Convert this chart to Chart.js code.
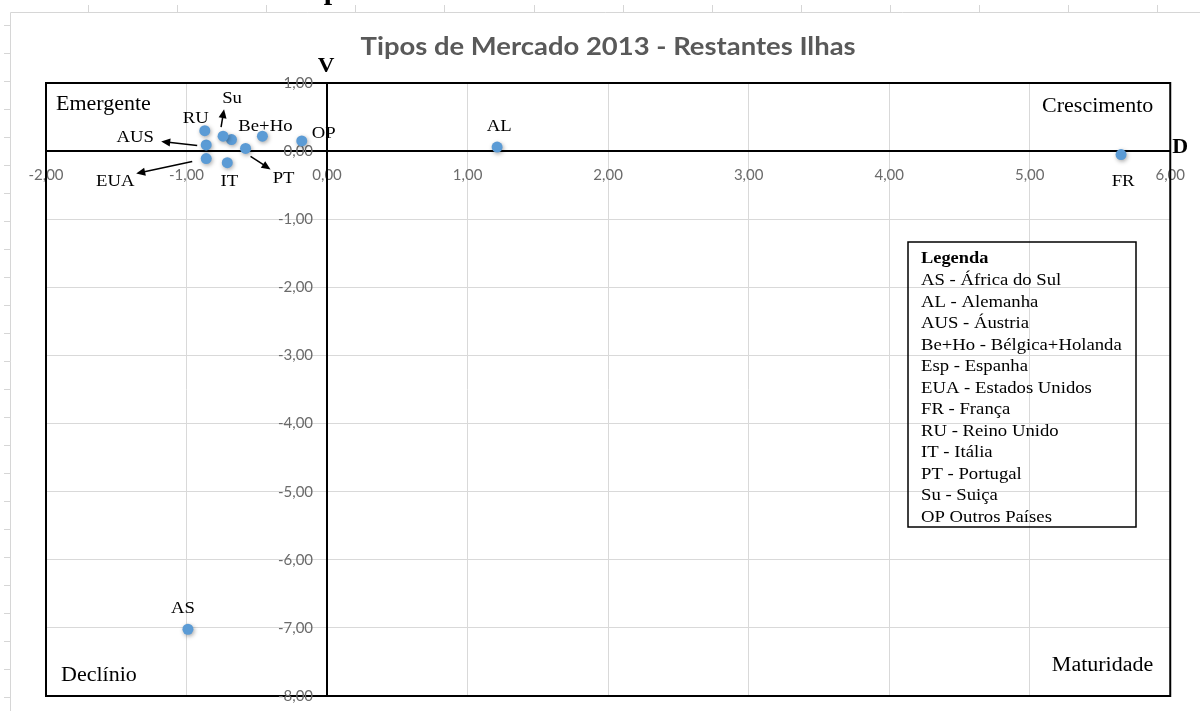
<!DOCTYPE html>
<html lang="pt">
<head>
<meta charset="utf-8">
<title>Tipos de Mercado 2013 - Restantes Ilhas</title>
<script src="https://cdn.jsdelivr.net/npm/chart.js@4/dist/chart.umd.min.js"></script>
<style>
  html, body { margin: 0; padding: 0; background: #fff; }
  #wrap { position: relative; width: 1200px; height: 711px; }
</style>
</head>
<body>
<div id="wrap"><canvas id="chart"></canvas></div>
<script>
// Market codes and their two indicators: D (horizontal) and V (vertical)
const countries = ['AS', 'AL', 'AUS', 'Be+Ho', 'Esp', 'EUA', 'FR', 'RU', 'IT', 'PT', 'Su', 'OP'];
const dValues   = [-0.99, 1.21, -0.86, -0.46, -0.68, -0.86, 5.65, -0.87, -0.71, -0.58, -0.74, -0.18];
const vValues   = [-7.02, 0.06,  0.09,  0.22,  0.17, -0.11, -0.05, 0.30, -0.17,  0.04,  0.22,  0.15];

// Axis ranges and tick steps
const xTicks = [-2, -1, 0, 1, 2, 3, 4, 5, 6];
const yTicks = [1, 0, -1, -2, -3, -4, -5, -6, -7, -8];

// Quadrant names and legend lines
const quadrants = ['Emergente', 'Crescimento', 'Declínio', 'Maturidade'];
const legendTitle = 'Legenda';
const legendLines = [
  'AS - África do Sul',
  'AL - Alemanha',
  'AUS - Áustria',
  'Be+Ho - Bélgica+Holanda',
  'Esp - Espanha',
  'EUA - Estados Unidos',
  'FR - França',
  'RU - Reino Unido',
  'IT - Itália',
  'PT - Portugal',
  'Su - Suiça',
  'OP Outros Países'
];
const chartTitle = 'Tipos de Mercado 2013 - Restantes Ilhas';

const fmt = v => v.toFixed(2).replace('.', ',').replace('-0,00', '0,00');

// Label placement relative to each point (pixels); arrows run from a -> b
const labelPlacement = {
  'RU':    { dx: -9,  dy: -14 },
  'Su':    { dx: 9,   dy: -39, arrow: { a: [-2, -9],  b: [1, -27] } },
  'AUS':   { dx: -71, dy: -9,  arrow: { a: [-9, 0.5], b: [-45, -3.5] } },
  'EUA':   { dx: -91, dy: 21,  arrow: { a: [-14, 3],  b: [-70, 15] } },
  'IT':    { dx: 2,   dy: 17 },
  'PT':    { dx: 38,  dy: 29,  arrow: { a: [5, 8],    b: [25, 21] } },
  'Be+Ho': { dx: 3,   dy: -11 },
  'OP':    { dx: 22,  dy: -9 },
  'AL':    { dx: 2,   dy: -22 },
  'FR':    { dx: 2,   dy: 25 },
  'AS':    { dx: -5,  dy: -22 }
};

const SERIF = '"Liberation Serif", "Times New Roman", serif';
const TICK_FONT = '15px Lato, "Open Sans", sans-serif';
const TICK_COLOR = '#6b6b6b';

function drawText(ctx, s, x, y, font, opt) {
  opt = opt || {};
  ctx.save();
  ctx.font = font;
  ctx.fillStyle = opt.color || '#000';
  ctx.textBaseline = opt.baseline || 'alphabetic';
  ctx.textAlign = 'left';
  let sx = opt.sx || 1;
  const raw = ctx.measureText(s).width;
  if (opt.fitWidth) sx = opt.fitWidth / raw;
  const w = raw * sx;
  let left = x;
  if (opt.align === 'center') left = x - w / 2;
  else if (opt.align === 'right') left = x - w;
  ctx.translate(left, y);
  ctx.scale(sx, 1);
  ctx.fillText(s, 0, 0);
  ctx.restore();
}

function drawArrow(ctx, x1, y1, x2, y2) {
  const ang = Math.atan2(y2 - y1, x2 - x1);
  const head = 9, half = 4;
  ctx.save();
  ctx.strokeStyle = '#000';
  ctx.fillStyle = '#000';
  ctx.lineWidth = 1.5;
  ctx.beginPath();
  ctx.moveTo(x1, y1);
  ctx.lineTo(x2 - Math.cos(ang) * head * 0.8, y2 - Math.sin(ang) * head * 0.8);
  ctx.stroke();
  ctx.beginPath();
  ctx.moveTo(x2, y2);
  ctx.lineTo(x2 - Math.cos(ang) * head + Math.sin(ang) * half,
             y2 - Math.sin(ang) * head - Math.cos(ang) * half);
  ctx.lineTo(x2 - Math.cos(ang) * head - Math.sin(ang) * half,
             y2 - Math.sin(ang) * head + Math.cos(ang) * half);
  ctx.closePath();
  ctx.fill();
  ctx.restore();
}

// Sheet rulers behind the chart object
const sheetBackdrop = {
  id: 'sheetBackdrop',
  beforeDraw(chart) {
    const ctx = chart.ctx;
    ctx.save();
    ctx.fillStyle = '#fff';
    ctx.fillRect(0, 0, chart.width, chart.height);
    ctx.strokeStyle = '#d6d6d6';
    ctx.lineWidth = 1;
    ctx.beginPath();
    ctx.moveTo(10.5, 12.5); ctx.lineTo(chart.width, 12.5);
    ctx.moveTo(10.5, 12.5); ctx.lineTo(10.5, chart.height);
    for (let x = 88; x < chart.width; x += 89.1) {
      ctx.moveTo(Math.round(x) + 0.5, 5); ctx.lineTo(Math.round(x) + 0.5, 12);
    }
    for (let y = 25; y < chart.height; y += 28.0) {
      ctx.moveTo(4, Math.round(y) + 0.5); ctx.lineTo(10, Math.round(y) + 0.5);
    }
    ctx.stroke();
    ctx.restore();
    // text running off the top of the sheet
    drawText(chart.ctx, 'p', 332, -1, 'bold 30px ' + SERIF, { align: 'center' });
  }
};

// Frame, V-axis tick labels, title, axis letters, quadrant names and the legend box
const decorations = {
  id: 'decorations',
  beforeDatasetsDraw(chart) {
    const ctx = chart.ctx;
    const a = chart.chartArea;
    ctx.save();
    ctx.strokeStyle = '#000';
    ctx.lineWidth = 2;
    ctx.strokeRect(a.left, a.top, a.right - a.left, a.bottom - a.top);
    ctx.restore();

    // V-axis labels sit left of the D=0 line, offset from it
    const xs = chart.scales.x, ys = chart.scales.y;
    const x0 = xs.getPixelForValue(0);
    ys.ticks.forEach(t => {
      drawText(ctx, fmt(t.value), x0 - 14, ys.getPixelForValue(t.value), TICK_FONT,
        { align: 'right', color: TICK_COLOR, baseline: 'middle' });
    });
  },
  afterDraw(chart) {
    const ctx = chart.ctx;
    const a = chart.chartArea;
    const xs = chart.scales.x, ys = chart.scales.y;
    const x0 = xs.getPixelForValue(0), y0 = ys.getPixelForValue(0);

    drawText(ctx, chartTitle, (a.left + a.right) / 2, 55,
      'bold 25px Lato, "Open Sans", sans-serif', { align: 'center', color: '#595959', fitWidth: 495 });

    drawText(ctx, 'V', x0 - 1, 72, 'bold 21px ' + SERIF, { align: 'center', sx: 1.1 });
    drawText(ctx, 'D', a.right + 2, y0 + 2, 'bold 20px ' + SERIF, { sx: 1.1 });

    const qFont = '20px ' + SERIF;
    drawText(ctx, quadrants[0], a.left + 10, a.top + 27, qFont, { sx: 1.1 });
    drawText(ctx, quadrants[1], a.right - 17, a.top + 29, qFont, { sx: 1.1, align: 'right' });
    drawText(ctx, quadrants[2], a.left + 15, a.bottom - 15, qFont, { sx: 1.1 });
    drawText(ctx, quadrants[3], a.right - 17, a.bottom - 25, qFont, { sx: 1.1, align: 'right' });

    // legend box
    const bx = 908, by = 242, bw = 228, bh = 285;
    ctx.save();
    ctx.strokeStyle = '#000';
    ctx.lineWidth = 1.5;
    ctx.strokeRect(bx, by, bw, bh);
    ctx.restore();
    const lFont = '17px ' + SERIF;
    drawText(ctx, legendTitle, bx + 13, by + 21, 'bold 17px ' + SERIF, { sx: 1.08 });
    legendLines.forEach((s, i) => {
      drawText(ctx, s, bx + 13, by + 43 + i * 21.5, lFont, { sx: 1.1 });
    });

    // point labels and arrows
    const meta = chart.getDatasetMeta(0);
    meta.data.forEach((pt, i) => {
      const name = countries[i];
      const p = labelPlacement[name];
      if (!p) return;
      drawText(ctx, name, pt.x + p.dx, pt.y + p.dy + 6, '17px ' + SERIF, { align: 'center', sx: 1.1 });
      if (p.arrow) {
        drawArrow(ctx, pt.x + p.arrow.a[0], pt.y + p.arrow.a[1], pt.x + p.arrow.b[0], pt.y + p.arrow.b[1]);
      }
    });
  }
};

// soft drop shadow under the markers
const markerShadow = {
  id: 'markerShadow',
  beforeDatasetDraw(chart) {
    const ctx = chart.ctx;
    ctx.save();
    ctx.shadowColor = 'rgba(0,0,0,0.35)';
    ctx.shadowBlur = 4;
    ctx.shadowOffsetX = 1;
    ctx.shadowOffsetY = 1.5;
  },
  afterDatasetDraw(chart) {
    chart.ctx.restore();
  }
};

const tickFont = { family: 'Lato, "Open Sans", sans-serif', size: 15 };

new Chart(document.getElementById('chart'), {
  type: 'scatter',
  data: {
    datasets: [{
      label: 'Mercados',
      data: countries.map((c, i) => ({ x: dValues[i], y: vValues[i] })),
      backgroundColor: '#5B9BD5',
      borderWidth: 0,
      pointRadius: 5.5,
      pointHoverRadius: 5.5
    }]
  },
  options: {
    responsive: true,
    maintainAspectRatio: false,
    animation: false,
    events: [],
    layout: { padding: { left: 46, right: 27, top: 83, bottom: 15 } },
    plugins: {
      legend: { display: false },
      title: { display: false },
      tooltip: { enabled: false }
    },
    scales: {
      x: {
        type: 'linear',
        position: { y: 0 },
        min: xTicks[0],
        max: xTicks[xTicks.length - 1],
        afterBuildTicks: s => { s.ticks = xTicks.map(v => ({ value: v })); },
        ticks: { callback: v => fmt(v), color: TICK_COLOR, font: tickFont, padding: 15, maxRotation: 0, autoSkip: false },
        grid: { color: '#d9d9d9', lineWidth: 1, drawTicks: false },
        border: { color: '#000', width: 2 }
      },
      y: {
        type: 'linear',
        position: { x: 0 },
        min: yTicks[yTicks.length - 1],
        max: yTicks[0],
        afterBuildTicks: s => { s.ticks = yTicks.slice().reverse().map(v => ({ value: v })); },
        ticks: { display: false, font: tickFont, autoSkip: false },
        grid: { color: '#d9d9d9', lineWidth: 1, drawTicks: false },
        border: { color: '#000', width: 2 }
      }
    }
  },
  plugins: [sheetBackdrop, markerShadow, decorations]
});
</script>
</body>
</html>
